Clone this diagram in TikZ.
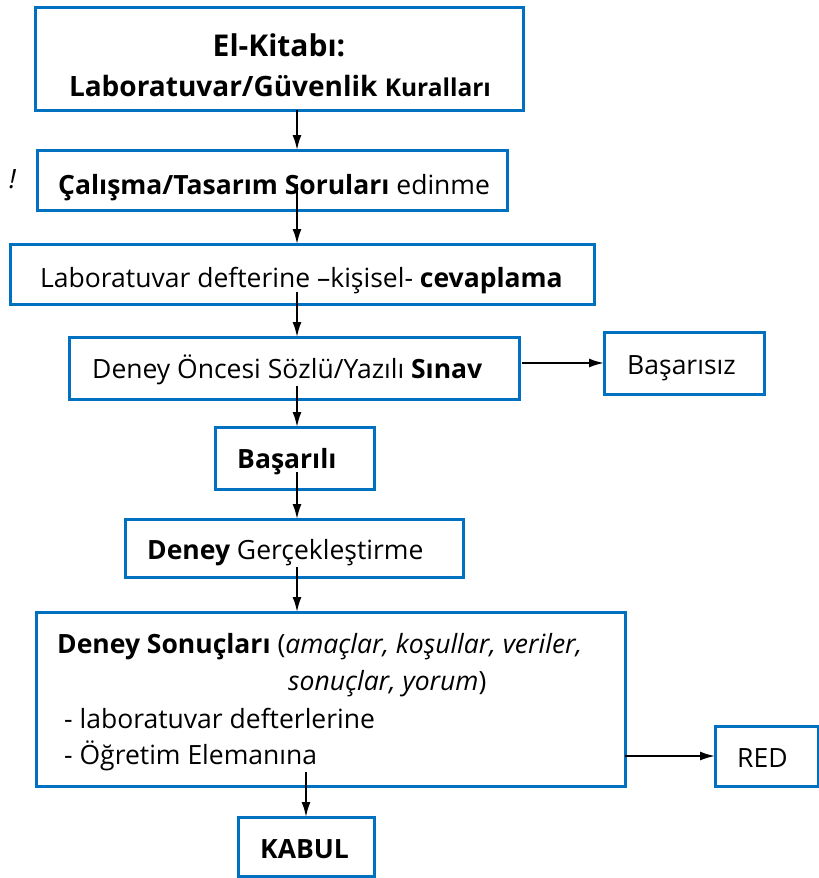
\documentclass[tikz,border=0pt]{standalone}
\usepackage{fontspec}
\setmainfont{Open Sans}
\usetikzlibrary{arrows.meta,calc}
\definecolor{boxblue}{RGB}{0,112,192}
\begin{document}
\begin{tikzpicture}[x=1pt,y=-1pt,
  box/.style={draw=boxblue,line width=3pt,rectangle,inner sep=0pt,outer sep=0pt},
  txt/.style={inner sep=0pt,font=\fontsize{26.5}{30}\selectfont,text=black,anchor=base west},
  arr/.style={draw=black,line width=1.8pt,-{Latex[length=15pt,width=9pt]}}]
\useasboundingbox (0,0) rectangle (819,878);
% boxes
\node[box,minimum width=488pt,minimum height=103pt] (top) at (279,58.5) {};
\node[box,minimum width=470pt,minimum height=60pt] (calisma) at (272,180) {};
\node[box,minimum width=584pt,minimum height=60pt] (lab) at (302,274) {};
\node[box,minimum width=450pt,minimum height=62pt] (oncesi) at (294,368) {};
\node[box,minimum width=160pt,minimum height=62pt] (basarisiz) at (684,363) {};
\node[box,minimum width=159pt,minimum height=62pt] (basarili) at (294.5,458) {};
\node[box,minimum width=338pt,minimum height=58pt] (gercek) at (294,548) {};
\node[box,minimum width=589pt,minimum height=174pt] (sonuc) at (330.5,699) {};
\node[box,minimum width=103pt,minimum height=60pt] (red) at (766.5,756) {};
\node[box,minimum width=136pt,minimum height=59pt] (kabul) at (306,846.5) {};
% texts
\node[txt,anchor=base,font=\fontsize{30}{34}\selectfont] (ttop1) at (279,56) {\textbf{El-Kitabı:}};
\node[txt,anchor=base,font=\fontsize{28}{32}\selectfont] (ttop2) at (280,96) {\textbf{Laboratuvar/Güvenlik} {\fontsize{24.5}{28}\selectfont\textbf{Kuralları}}};
\node[txt] (bang) at (9,188) {\textit{!}};
\node[txt] (tcal) at (58,194) {\textbf{Çalışma/Tasarım Soruları} edinme};
\node[txt] (tlab) at (40,287) {Laboratuvar defterine –kişisel- \textbf{cevaplama}};
\node[txt] (tonc) at (92,378) {Deney Öncesi Sözlü/Yazılı \textbf{Sınav}};
\node[txt] (tbsz) at (627,374) {Başarısız};
\node[txt] (tbsl) at (237,468) {\textbf{Başarılı}};
\node[txt] (tger) at (147,559) {\textbf{Deney} Gerçekleştirme};
\node[txt] (ts1) at (57,653) {\textbf{Deney Sonuçları} (\textit{amaçlar, koşullar, veriler,}};
\node[txt] (ts2) at (288,690) {\textit{sonuçlar, yorum})};
\node[txt] (ts3) at (64,728) {- laboratuvar defterlerine};
\node[txt] (ts4) at (64,764) {- Öğretim Elemanına};
\node[txt] (tred) at (737,767) {RED};
\node[txt] (tkab) at (260,858) {\textbf{KABUL}};
% arrows
\coordinate (ax) at (297,0);
\draw[arr] (top.south -| ax) -- (calisma.north -| ax);
\draw[arr] ($(calisma.south -| ax)+(0,-26)$) -- (lab.north -| ax);
\draw[arr] ($(lab.south -| ax)+(0,-12)$) -- (oncesi.north -| ax);
\draw[arr] ($(oncesi.south -| ax)+(0,-13)$) -- (basarili.north -| ax);
\draw[arr] ($(basarili.south -| ax)+(0,-17)$) -- (gercek.north -| ax);
\draw[arr] ($(gercek.south -| ax)+(0,-10)$) -- (sonuc.north -| ax);
\draw[arr] ($(oncesi.east |- basarisiz.west)+(3,0)$) -- (basarisiz.west);
\draw[arr] (sonuc.east |- red.west) -- (red.west);
\draw[arr] ($(sonuc.south -| kabul.north)+(0,-14)$) -- (kabul.north);
\end{tikzpicture}
\end{document}
